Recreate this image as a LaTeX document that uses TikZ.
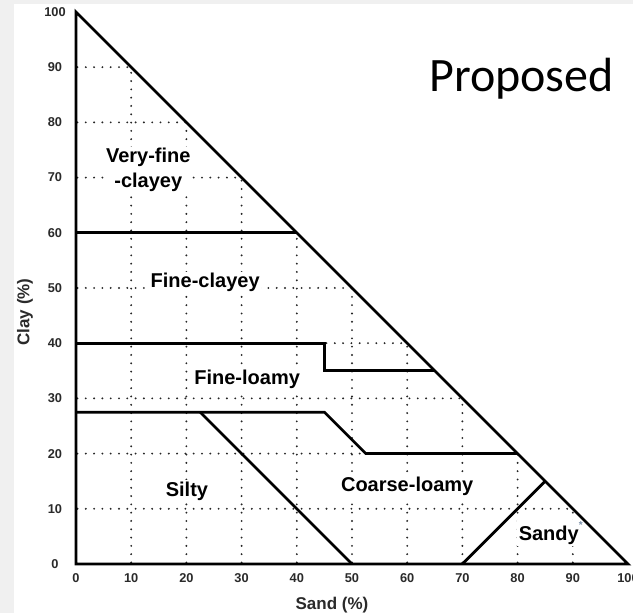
\documentclass[tikz,border=0pt]{standalone}
\usepackage{fontspec}
\setmainfont{Liberation Sans}
\newfontfamily\calibfont{Carlito}
\definecolor{bggrey}{HTML}{F0F0F0}
\definecolor{ticktext}{HTML}{2A2A2A}
\definecolor{starcol}{HTML}{7A8FA8}
\begin{document}
\begin{tikzpicture}[x=5.52pt,y=5.52pt,
  solidline/.style={line width=2.7pt, line join=miter, black},
  dotline/.style={line width=2.1pt, dash pattern=on 0pt off 8.3pt, dash phase=-1.5pt, line cap=round, black!85},
  region/.style={fill=white, inner sep=1.5pt, font=\bfseries\fontsize{20}{25}\selectfont, align=center},
  ticklab/.style={font=\bfseries\fontsize{12.8}{14}\selectfont, text=ticktext, inner sep=0pt},
  axtitle/.style={font=\bfseries\fontsize{17}{20}\selectfont, text=ticktext, inner sep=0pt}]
\useasboundingbox (-76pt,-49pt) rectangle (557pt,564pt);
\fill[bggrey] (-76pt,-49pt) rectangle (557pt,564pt);
\fill[white] (-62pt,-49pt) rectangle (557pt,560pt);
% corners
\coordinate (O) at (0,0);
\coordinate (S) at (100,0);
\coordinate (C) at (0,100);
% dotted grid clipped to triangle
\foreach \i in {10,20,...,90}{
  \draw[dotline] (0,\i) -- ({100-\i},\i);
  \draw[dotline] (\i,0) -- (\i,{100-\i});
}
% region labels (white backgrounds mask the grid)
\node[region] (vfc) at (13.1,71.4) {Very-fine\\-clayey};
\node[region] (fc) at (23.4,51) {Fine-clayey};
\node[region] (fl) at (31,33.4) {Fine-loamy};
\node[region] (si) at (20.1,13.2) {Silty};
\node[region] (cl) at (60,14) {Coarse-loamy};
\node[region] (sa) at (86,5.6) {Sandy\raisebox{1.1ex}{\fontsize{10}{10}\selectfont\color{starcol}*}};
% boundary lines
\coordinate (a60) at (0,60);   \coordinate (b60) at (40,60);
\coordinate (a40) at (0,40);   \coordinate (b40) at (45,40);
\coordinate (c35) at (45,35);  \coordinate (d35) at (65,35);
\coordinate (a27) at (0,27.5); \coordinate (b27) at (45,27.5);
\coordinate (c20) at (52.5,20);\coordinate (d20) at (80,20);
\coordinate (s1) at (22.5,27.5); \coordinate (s2) at (50,0);
\coordinate (y1) at (70,0);    \coordinate (y2) at (85,15);
\draw[solidline] (a60) -- (b60);
\draw[solidline] (a40) -- (b40) -- (c35) -- (d35);
\draw[solidline] (a27) -- (b27) -- (c20) -- (d20);
\draw[solidline] (s1) -- (s2);
\draw[solidline] (y1) -- (y2);
\draw[solidline] (O) -- (S) -- (C) -- cycle;
% tick labels
\foreach \i in {0,10,...,100}{
  \node[ticklab] (xt\i) at (\i,-14pt) {\i};
  \node[ticklab] (yt\i) at (-21pt,\i) {\i};
}
\node[axtitle] (xtitle) at (256pt,-41pt) {Sand (\%)};
\node[axtitle, rotate=90] (ytitle) at (-51pt,252pt) {Clay (\%)};
\node[anchor=base west, inner sep=0pt, font=\calibfont\fontsize{48}{50}\selectfont] (prop) at (353pt,472pt) {Proposed};
\end{tikzpicture}
\end{document}
